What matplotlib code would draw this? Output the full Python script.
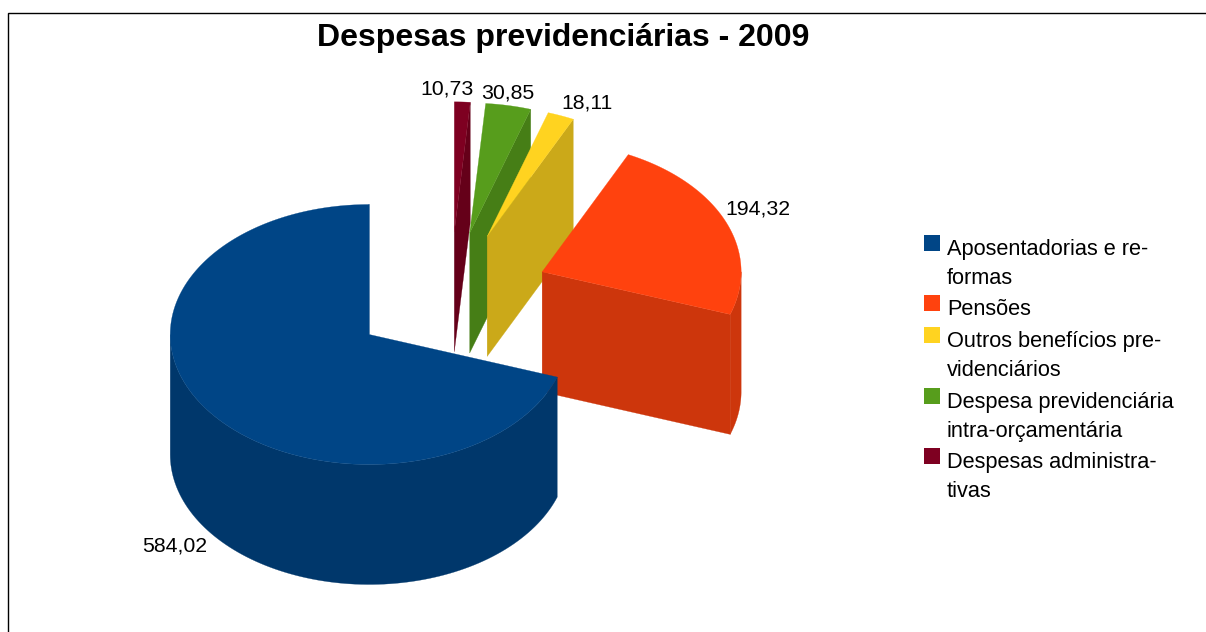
import numpy as np
import matplotlib
matplotlib.use('Agg')
from matplotlib import pyplot as plt

plt.rcParams['font.family'] = ['Liberation Sans', 'DejaVu Sans']

# valores
valores = [584.02, 194.32, 18.11, 30.85, 10.73]
legendas = ['Aposentadorias e re-\nformas', 'Pensões', 'Outros benefícios pre-\nvidenciários',
            'Despesa previdenciária\nintra-orçamentária', 'Despesas administra-\ntivas']
cores = ['#004586', '#ff420e', '#ffd320', '#579d1c', '#7e0021']
cores_lado = ['#00376b', '#cd360c', '#cba919', '#467e16', '#650019']
titulo = 'Despesas previdenciárias - 2009'

# pixels
cx, cy = 450.3, 296.8
rx, ry = 199.0, 130.0
altura = 120.0
explode = 0.5

# posicao dos rotulos e da legenda
rotulos_xy = [(175, 546), (758, 209), (587, 103), (508, 93), (447, 89)]
legenda_y = [243, 303, 335, 396, 456]

fig = plt.figure(figsize=(12.06, 6.32), dpi=100)
ax = fig.add_axes([0, 0, 1, 1])
ax.set_xlim(0, 1206)
ax.set_ylim(632, 0)
ax.axis('off')

ax.plot([8, 8, 1206], [632, 12.5, 12.5], color='black', lw=1.0, solid_joinstyle='miter')


def ponto(x0, y0, ang):
    return x0 + rx * np.cos(ang), y0 - ry * np.sin(ang)


def fatia(a0, a1, cor, cor_lado):
    meio = (a0 + a1) / 2
    x0 = cx + explode * rx * np.cos(meio)
    y0 = cy - explode * ry * np.sin(meio)

    # parede externa, so a parte da frente aparece
    for ini, fim in [(a0, a1), (a0 + 2 * np.pi, a1 + 2 * np.pi)]:
        ini2 = max(ini, np.pi)
        fim2 = min(fim, 2 * np.pi)
        if fim2 > ini2:
            t = np.linspace(ini2, fim2, 100)
            xs, ys = ponto(x0, y0, t)
            ax.fill(np.r_[xs, xs[::-1]], np.r_[ys, ys[::-1] + altura], color=cor_lado, lw=0.2)

    # face interna do angulo inicial
    xa, ya = ponto(x0, y0, a0)
    if np.sin(a0) > 0 or np.cos(a0) > 0 and a0 > 0 and a1 - a0 < np.pi:
        ax.fill([x0, xa, xa, x0], [y0, ya, ya + altura, y0 + altura], color=cor_lado, lw=0.2)

    t = np.linspace(a0, a1, 200)
    xs, ys = ponto(x0, y0, t)
    ax.fill(np.r_[x0, xs], np.r_[y0, ys], color=cor, lw=0.2)


# sentido anti-horario a partir do topo
angulos = np.radians(np.cumsum(valores) / np.sum(valores) * 360)
inicio = np.pi / 2 + np.r_[0, angulos[:-1]]
fim = np.pi / 2 + angulos

for i in [4, 3, 2, 1, 0]:
    fatia(inicio[i], fim[i], cores[i], cores_lado[i])

for v, (x, y) in zip(valores, rotulos_xy):
    ax.text(x, y, ('%.2f' % v).replace('.', ','), fontsize=15.3, ha='center', va='center', color='black')

ax.text(563, 38, titulo, fontsize=23, fontweight='bold', ha='center', va='center', color='black')

for nome, cor, y in zip(legendas, cores, legenda_y):
    ax.fill([924, 939.5, 939.5, 924], [y - 8, y - 8, y + 8, y + 8], color=cor, lw=0)
    ax.text(947, y - 4, nome, fontsize=15.7, ha='left', va='top', color='black', linespacing=1.5)

fig.savefig('out.png', dpi=100)
